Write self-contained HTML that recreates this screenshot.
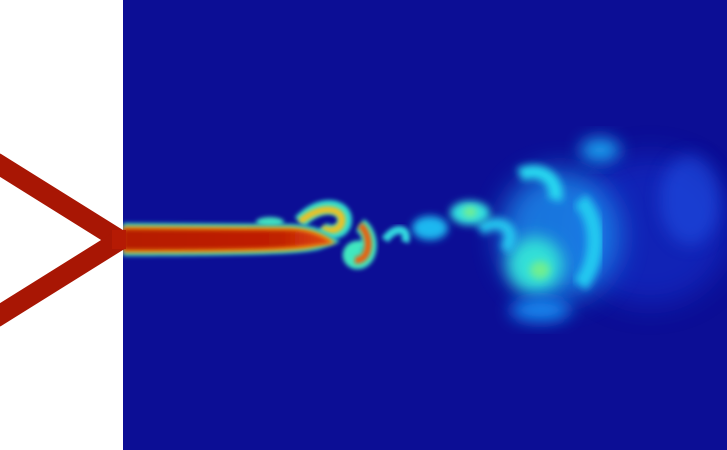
<!DOCTYPE html>
<html><head><meta charset="utf-8"><style>
html,body{margin:0;padding:0;background:#fff;width:727px;height:450px;overflow:hidden}
svg{display:block}
</style></head><body>
<svg width="727" height="450" viewBox="0 0 727 450">
<defs>
<filter id="b2" x="-50%" y="-50%" width="200%" height="200%"><feGaussianBlur stdDeviation="2"/></filter>
<filter id="b4" x="-50%" y="-50%" width="200%" height="200%"><feGaussianBlur stdDeviation="4"/></filter>
<filter id="b8" x="-50%" y="-50%" width="200%" height="200%"><feGaussianBlur stdDeviation="8"/></filter>
<filter id="b14" x="-50%" y="-50%" width="200%" height="200%"><feGaussianBlur stdDeviation="14"/></filter>
<clipPath id="dom"><rect x="123" y="0" width="604" height="450"/></clipPath>
<linearGradient id="jetg" x1="0" x2="1" y1="0" y2="0">
<stop offset="0" stop-color="#b51a04"/><stop offset="0.75" stop-color="#c02006"/><stop offset="1" stop-color="#e04a08"/>
</linearGradient>
</defs>
<rect x="0" y="0" width="123" height="450" fill="#ffffff"/>
<rect x="123" y="0" width="604" height="450" fill="#0c0e95"/>
<g clip-path="url(#dom)">
  <ellipse cx="650" cy="230" rx="80" ry="75" fill="#1838d8" opacity="0.5" filter="url(#b14)"/>
  <ellipse cx="690" cy="200" rx="30" ry="45" fill="#2058ec" opacity="0.5" filter="url(#b8)"/>
  <ellipse cx="560" cy="235" rx="60" ry="65" fill="#1a90f0" opacity="0.8" filter="url(#b14)"/>
  <path d="M520 175 C540 165 560 180 555 200" stroke="#25d8f0" stroke-width="14" fill="none" filter="url(#b4)"/>
  <path d="M580 200 C600 220 600 260 580 285" stroke="#20c8f0" stroke-width="16" fill="none" filter="url(#b4)"/>
  <ellipse cx="535" cy="265" rx="28" ry="28" fill="#30e0d8" filter="url(#b8)"/>
  <ellipse cx="540" cy="270" rx="10" ry="9" fill="#70ee90" filter="url(#b4)"/>
  <path d="M480 230 C500 215 520 230 505 250" stroke="#25c8f0" stroke-width="12" fill="none" filter="url(#b4)"/>
  <ellipse cx="600" cy="150" rx="20" ry="12" fill="#1aa0f0" filter="url(#b8)"/>
  <ellipse cx="470" cy="213" rx="20" ry="12" fill="#30e0e0" filter="url(#b4)"/>
  <ellipse cx="470" cy="212" rx="7" ry="5" fill="#80f080" filter="url(#b4)"/>
  <ellipse cx="430" cy="228" rx="18" ry="12" fill="#1fb8f0" filter="url(#b4)"/>
  <path d="M385 240 C395 225 410 228 405 242" stroke="#30d8e0" stroke-width="8" fill="none" filter="url(#b2)"/>
  <ellipse cx="540" cy="310" rx="30" ry="12" fill="#1888f0" filter="url(#b8)"/>
  <path d="M300 222 C320 200 345 205 345 220 C345 232 330 236 322 228" stroke="#30e0d0" stroke-width="14" fill="none" filter="url(#b2)"/>
  <path d="M300 222 C320 204 342 208 342 220 C342 230 330 233 322 228" stroke="#f0c020" stroke-width="7" fill="none" filter="url(#b2)"/>
  <path d="M360 225 C375 235 372 265 355 262 C345 258 350 245 362 248" stroke="#40e8c0" stroke-width="14" fill="none" filter="url(#b2)"/>
  <path d="M360 225 C373 236 370 262 355 260" stroke="#e86010" stroke-width="7" fill="none" filter="url(#b2)"/>
  <ellipse cx="270" cy="222" rx="14" ry="5" fill="#40e0c0" filter="url(#b2)"/>
  <path d="M123 223 L290 224 C315 224 330 232 340 242 L318 250 C305 252 295 256 123 256 Z" fill="#30d0c8" filter="url(#b2)"/>
  <path d="M123 226 L290 227 C312 228 325 234 336 243 L316 247 C305 250 295 253 123 253 Z" fill="#f0a010" filter="url(#b2)"/>
  <path d="M123 229 L292 230 C310 231 322 236 332 243 L314 245 C302 246 292 250 123 250 Z" fill="url(#jetg)" filter="url(#b2)"/>
</g>
<g>
  <line x1="-5" y1="162" x2="120" y2="240" stroke="#a81604" stroke-width="20"/>
  <line x1="-5" y1="318" x2="120" y2="240" stroke="#a81604" stroke-width="20"/>
  <rect x="112" y="230" width="14" height="19" fill="#b51a04"/>
</g>
</svg>
</body></html>
